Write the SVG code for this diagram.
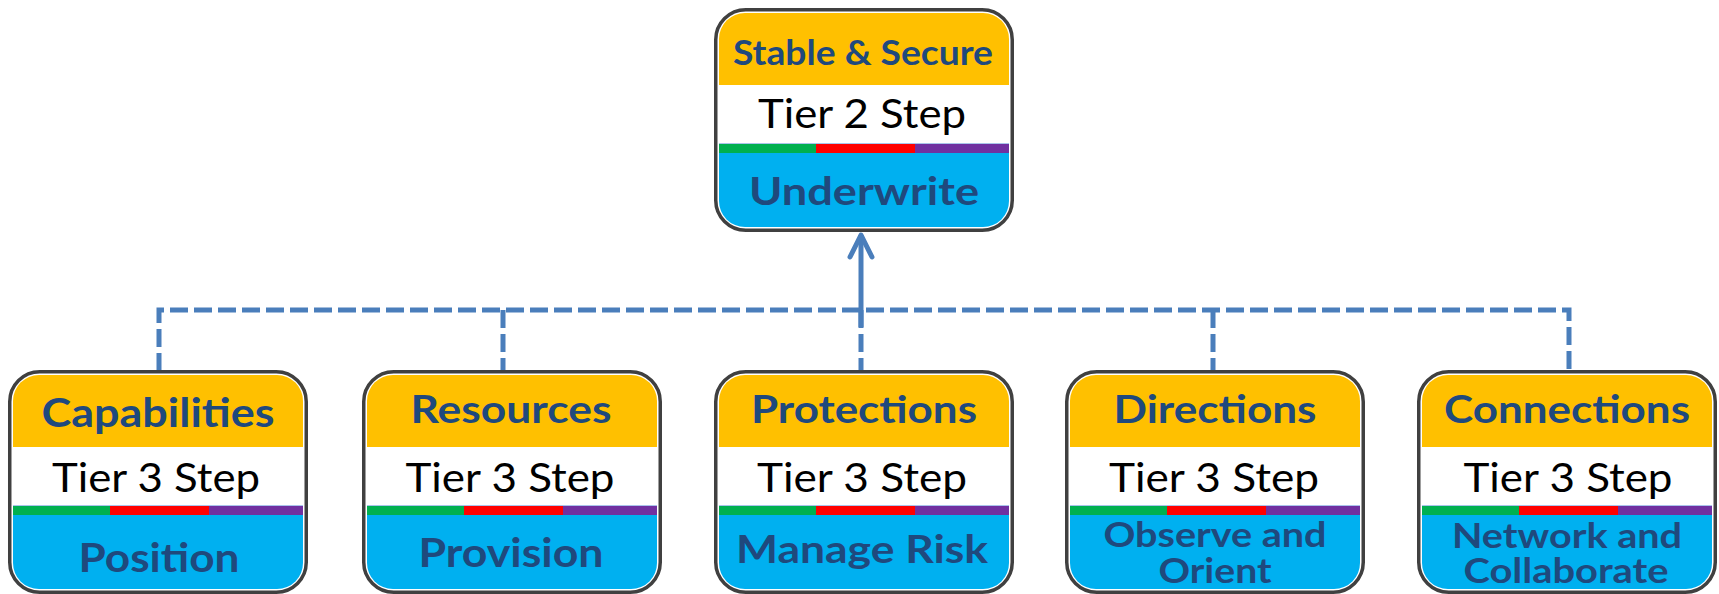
<svg xmlns="http://www.w3.org/2000/svg" xmlns:xlink="http://www.w3.org/1999/xlink" width="1719" height="594" viewBox="0 0 1719 594">
  <style>
    .frame { fill: #FFFFFF; stroke: #404040; stroke-width: 3.5; }
    .yel { fill: #FFC000; }
    .blu { fill: #00B0F0; }
    .thin { fill: #A9C4EB; }
    .g { fill: #00B050; }
    .r { fill: #FF0000; }
    .p { fill: #7030A0; }
    .title { font-family: Lato, "Liberation Sans", sans-serif; font-weight: 700; fill: #1F497D; text-anchor: middle; }
    .tier { font-family: Lato, "Liberation Sans", sans-serif; font-weight: 400; fill: #000000; text-anchor: middle; font-size: 40px; }
    .lbl { font-family: Lato, "Liberation Sans", sans-serif; font-weight: 700; fill: #1F497D; text-anchor: middle; }
    .dash { fill: none; stroke: #4A7EBB; stroke-width: 5; stroke-dasharray: 18 6; }
    .solid { fill: none; stroke: #4A7EBB; stroke-width: 5; }
  </style>
  <defs>
    <g id="box">
      <rect class="frame" x="1.75" y="1.75" width="296.5" height="220.5" rx="30" ry="30"/>
      <path class="yel" d="M5,77 V31 A26,26 0 0 1 31,5 H269 A26,26 0 0 1 295,31 V77 Z"/>
      <rect class="thin" x="5" y="135" width="290" height="1"/>
      <rect class="g" x="5" y="136" width="97" height="9"/>
      <rect class="r" x="102" y="136" width="99" height="9"/>
      <rect class="p" x="201" y="136" width="94" height="9"/>
      <path class="blu" d="M5,145 H295 V193 A26,26 0 0 1 269,219 H31 A26,26 0 0 1 5,193 Z"/>
    </g>
    <marker id="open-arrow" viewBox="-28 -15 32 30" refX="0" refY="0" markerWidth="32" markerHeight="30" markerUnits="userSpaceOnUse" orient="auto" overflow="visible">
      <path d="M-22,-11 L0,0 L-22,11" fill="none" stroke="#4A7EBB" stroke-width="5" stroke-linecap="round" stroke-linejoin="round"/>
    </marker>
  </defs>

  <g id="connectors">
    <path class="dash" d="M159,371 V310 H1569 V371"/>
    <path class="dash" d="M503,310 V371"/>
    <path class="dash" d="M861,310 V371"/>
    <path class="dash" d="M1213,310 V371"/>
    <path class="solid" d="M861,327 V235" marker-end="url(#open-arrow)"/>
  </g>

  <g id="node-stable-secure" transform="translate(714,8)">
    <use xlink:href="#box"/>
    <text class="title" x="149" y="57" font-size="35" textLength="260" lengthAdjust="spacingAndGlyphs">Stable &amp; Secure</text>
    <text class="tier" x="148" y="120" textLength="208" lengthAdjust="spacingAndGlyphs">Tier 2 Step</text>
    <text class="lbl" x="150" y="197" font-size="39" textLength="230" lengthAdjust="spacingAndGlyphs">Underwrite</text>
  </g>

  <g id="node-capabilities" transform="translate(8,370)">
    <use xlink:href="#box"/>
    <text class="title" x="150" y="57" font-size="40" textLength="233" lengthAdjust="spacingAndGlyphs">Capabilities</text>
    <text class="tier" x="148" y="122" textLength="208" lengthAdjust="spacingAndGlyphs">Tier 3 Step</text>
    <text class="lbl" x="151" y="202" font-size="41" textLength="161" lengthAdjust="spacingAndGlyphs">Position</text>
  </g>

  <g id="node-resources" transform="translate(362,370)">
    <use xlink:href="#box"/>
    <text class="title" x="149" y="53" font-size="39" textLength="201" lengthAdjust="spacingAndGlyphs">Resources</text>
    <text class="tier" x="148" y="122" textLength="209" lengthAdjust="spacingAndGlyphs">Tier 3 Step</text>
    <text class="lbl" x="149" y="197" font-size="41" textLength="185" lengthAdjust="spacingAndGlyphs">Provision</text>
  </g>

  <g id="node-protections" transform="translate(714,370)">
    <use xlink:href="#box"/>
    <text class="title" x="150" y="53" font-size="38" textLength="226" lengthAdjust="spacingAndGlyphs">Protections</text>
    <text class="tier" x="148" y="122" textLength="210" lengthAdjust="spacingAndGlyphs">Tier 3 Step</text>
    <text class="lbl" x="148" y="193" font-size="39" textLength="252" lengthAdjust="spacingAndGlyphs">Manage Risk</text>
  </g>

  <g id="node-directions" transform="translate(1065,370)">
    <use xlink:href="#box"/>
    <text class="title" x="150" y="53" font-size="39" textLength="203" lengthAdjust="spacingAndGlyphs">Directions</text>
    <text class="tier" x="149" y="122" textLength="210" lengthAdjust="spacingAndGlyphs">Tier 3 Step</text>
    <text class="lbl" x="150" y="177" font-size="35" textLength="223" lengthAdjust="spacingAndGlyphs">Observe and</text>
    <text class="lbl" x="150" y="213" font-size="35" textLength="113" lengthAdjust="spacingAndGlyphs">Orient</text>
  </g>

  <g id="node-connections" transform="translate(1417,370)">
    <use xlink:href="#box"/>
    <text class="title" x="150" y="53" font-size="39" textLength="246" lengthAdjust="spacingAndGlyphs">Connections</text>
    <text class="tier" x="151" y="122" textLength="209" lengthAdjust="spacingAndGlyphs">Tier 3 Step</text>
    <text class="lbl" x="150" y="178" font-size="35" textLength="230" lengthAdjust="spacingAndGlyphs">Network and</text>
    <text class="lbl" x="149" y="213" font-size="35" textLength="205" lengthAdjust="spacingAndGlyphs">Collaborate</text>
  </g>
</svg>
